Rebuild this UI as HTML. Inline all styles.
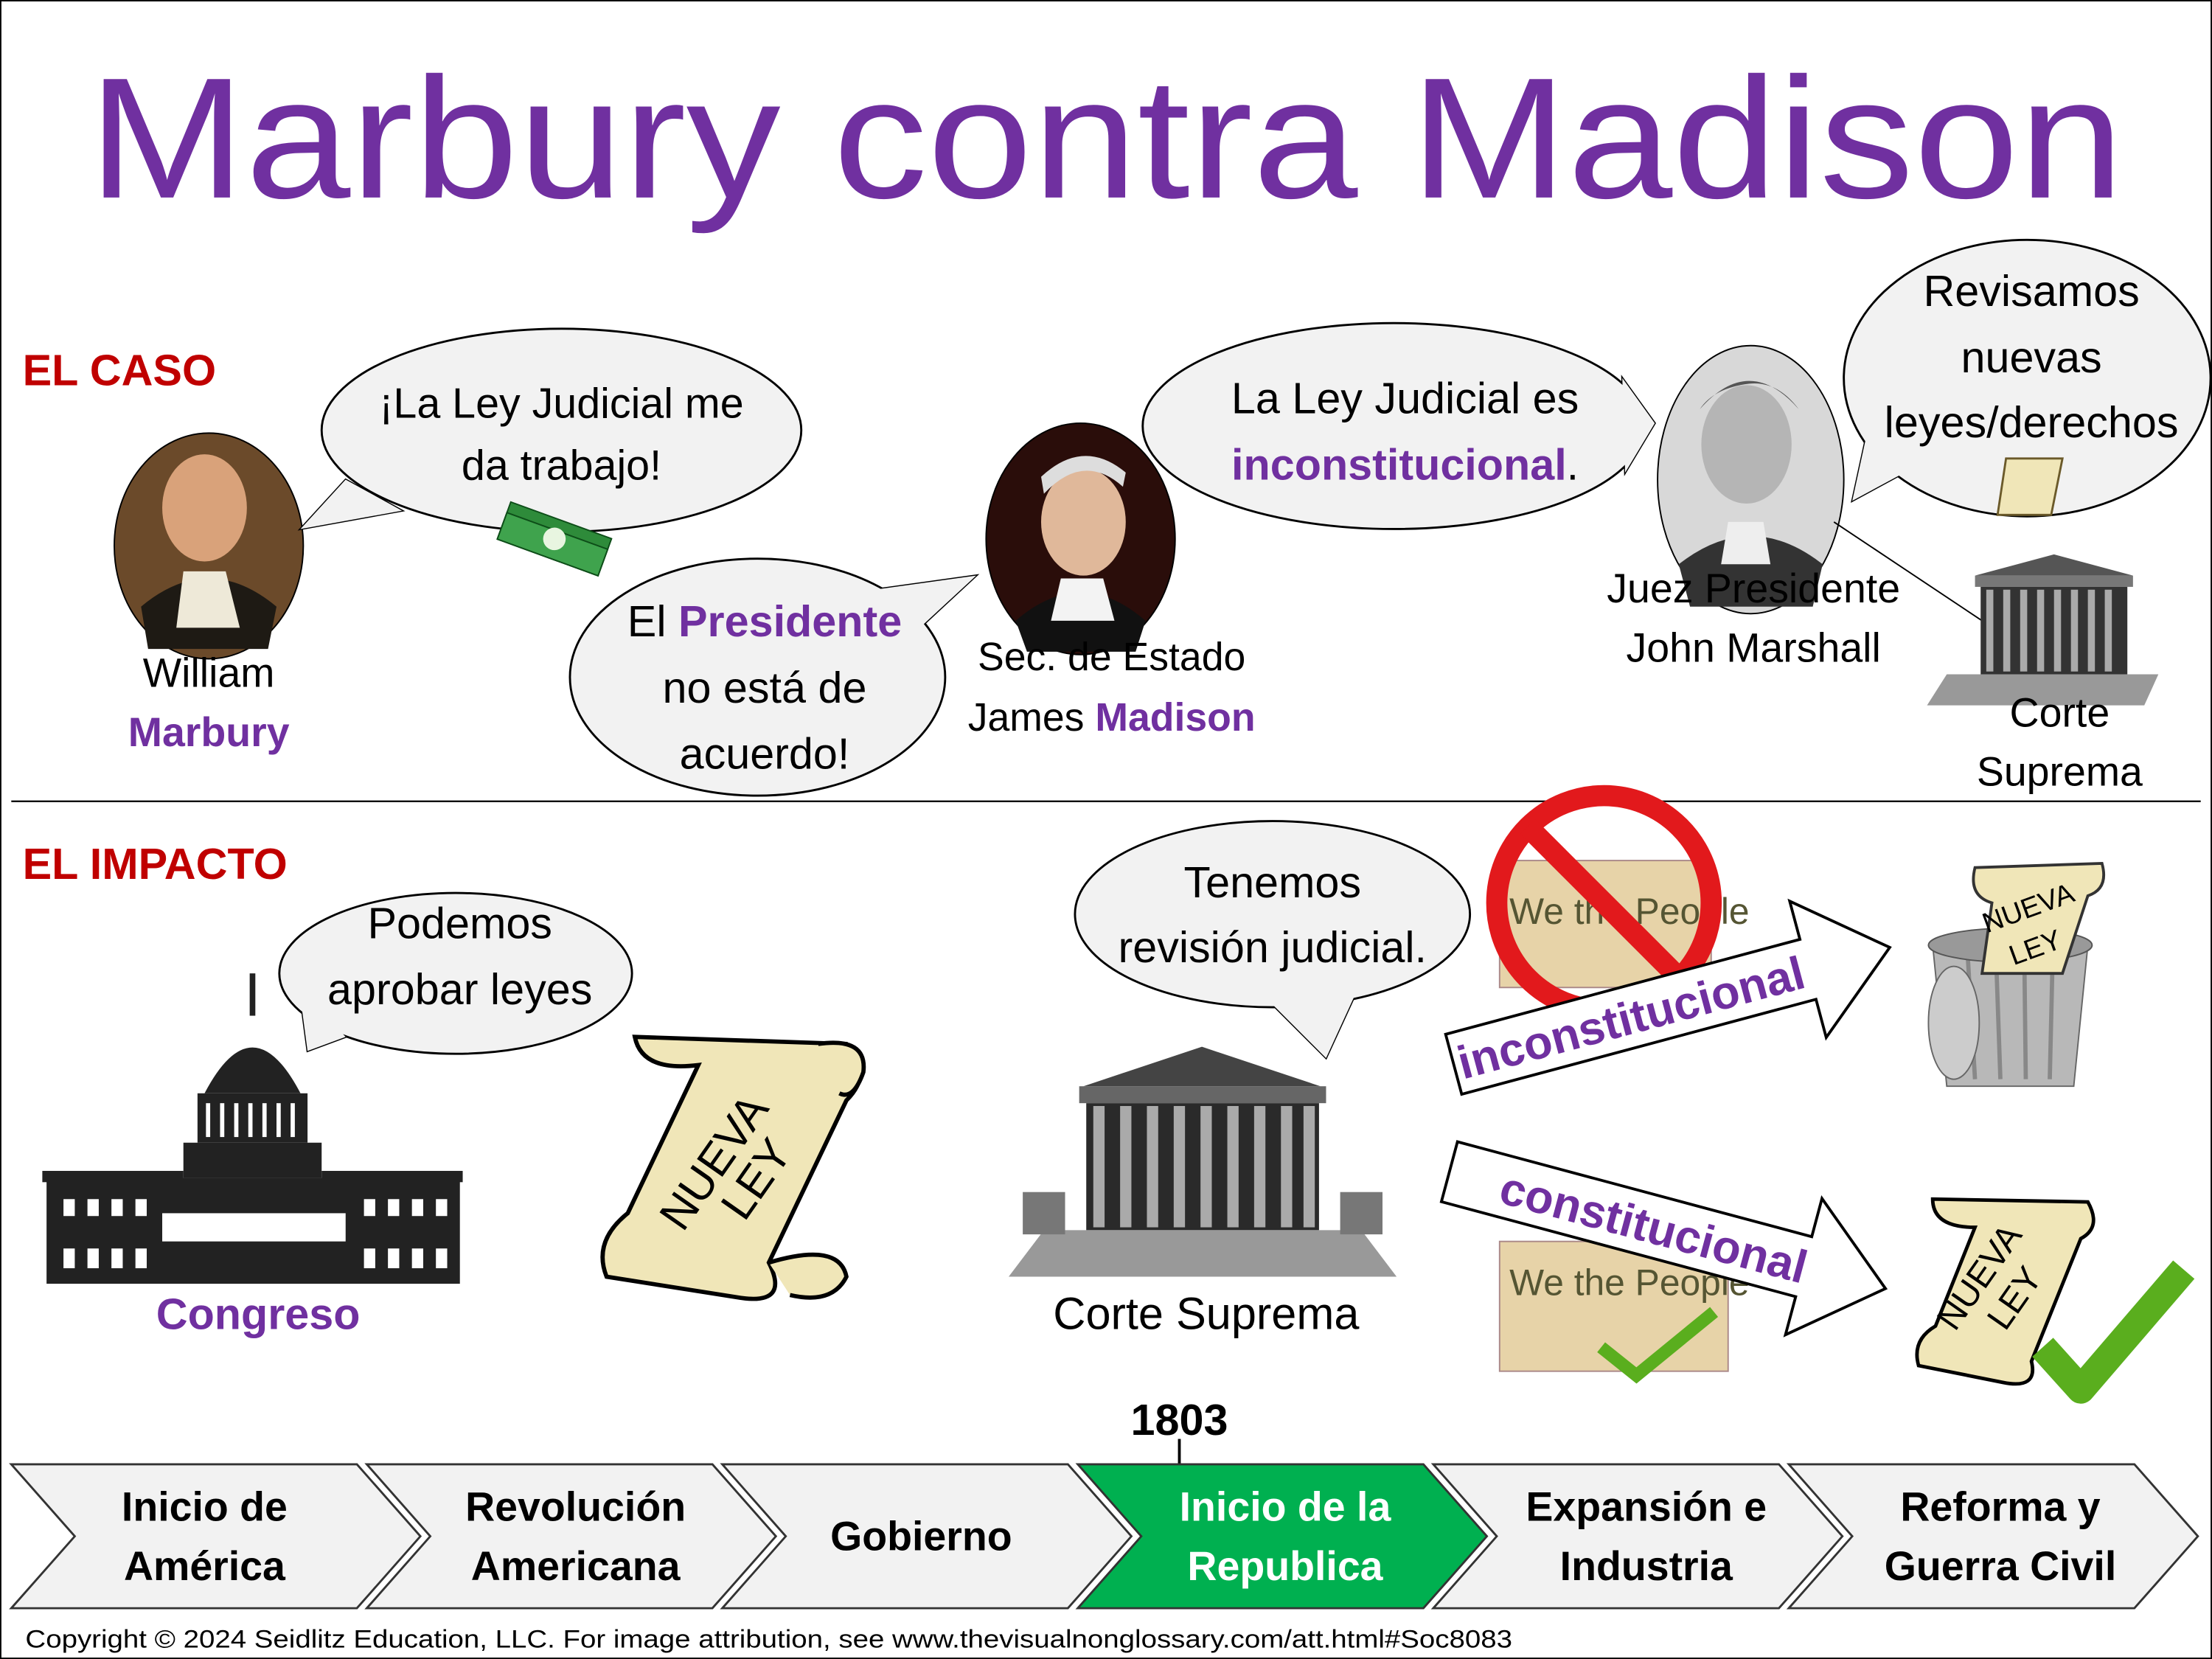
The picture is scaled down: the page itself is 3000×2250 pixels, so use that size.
<!DOCTYPE html>
<html><head><meta charset="utf-8"><style>
html,body{margin:0;padding:0;background:#fff}
svg{display:block}
text{font-family:"Liberation Sans",sans-serif}
</style></head><body>
<svg width="3000" height="2250" viewBox="0 0 1568 1176" preserveAspectRatio="none" xmlns="http://www.w3.org/2000/svg">
<rect x="0.5" y="0.5" width="1567" height="1175" fill="#fff" stroke="#000" stroke-width="1"/>
<text x="784" y="140" font-size="122" fill="#7030A0" text-anchor="middle" textLength="1443" lengthAdjust="spacingAndGlyphs">Marbury contra Madison</text>

<text x="16" y="273" font-size="31" font-weight="bold" fill="#C00000">EL CASO</text>

<!-- Marbury -->
<ellipse cx="148" cy="387" rx="67" ry="80" fill="#6b4a2a" stroke="#000"/>
<ellipse cx="145" cy="360" rx="30" ry="38" fill="#d9a27a"/>
<path d="M100 430 Q148 390 196 430 L190 460 L105 460Z" fill="#1e1a14"/>
<path d="M130 405 L160 405 L170 445 L125 445Z" fill="#eee9d8"/>
<text x="148" y="487" font-size="29" text-anchor="middle">William</text>
<text x="148" y="529" font-size="29" font-weight="bold" fill="#7030A0" text-anchor="middle">Marbury</text>

<g fill="#F2F2F2" stroke="#000" stroke-width="1.5">
<!-- bubble 1 -->
<polygon points="245,340 285,362 213,375"/>
<ellipse cx="398" cy="305" rx="170" ry="72"/>
<polygon points="245,340 285,362 213,375" stroke="none"/>
<!-- bubble 2 -->
<polygon points="620,418 652,445 692,408"/>
<ellipse cx="537" cy="480" rx="133" ry="84"/>
<polygon points="620,418 652,445 692,408" stroke="none"/>
<!-- bubble 3 -->
<polygon points="1150,268 1152,335 1173,300"/>
<ellipse cx="988" cy="302" rx="178" ry="73"/>
<polygon points="1150,268 1152,335 1173,300" stroke="none"/>
<!-- bubble 4 -->
<polygon points="1325,300 1350,335 1313,355"/>
<ellipse cx="1437" cy="268" rx="130" ry="98"/>
<polygon points="1325,300 1350,335 1313,355" stroke="none"/>
<!-- podemos -->
<polygon points="212,700 245,735 218,745"/>
<ellipse cx="323" cy="690" rx="125" ry="57"/>
<polygon points="212,700 245,735 218,745" stroke="none"/>
<!-- tenemos -->
<polygon points="900,710 962,702 940,750"/>
<ellipse cx="902" cy="648" rx="140" ry="66"/>
<polygon points="900,710 962,702 940,750" stroke="none"/>
</g>

<text x="398" y="296" font-size="30" text-anchor="middle">¡La Ley Judicial me</text>
<text x="398" y="340" font-size="30" text-anchor="middle">da trabajo!</text>
<g transform="translate(393,382) rotate(20)">
<rect x="-38" y="-14" width="76" height="28" fill="#2e8b3a" stroke="#0d4d18"/>
<rect x="-38" y="-6" width="76" height="20" fill="#3fa34d" stroke="#0d4d18"/>
<circle cx="0" cy="0" r="8" fill="#e8f5e0"/>
</g>

<text x="542" y="451" font-size="31" text-anchor="middle">El <tspan font-weight="bold" fill="#7030A0">Presidente</tspan></text>
<text x="542" y="498" font-size="31" text-anchor="middle">no está de</text>
<text x="542" y="545" font-size="31" text-anchor="middle">acuerdo!</text>

<!-- Madison -->
<ellipse cx="766" cy="382" rx="67" ry="82" fill="#2a0d0a" stroke="#000"/>
<ellipse cx="768" cy="370" rx="30" ry="38" fill="#e0b89a"/>
<path d="M740 350 Q768 320 796 345 L798 335 Q768 310 738 338Z" fill="#ddd"/>
<path d="M720 440 Q766 400 812 440 L805 462 L728 462Z" fill="#111"/>
<path d="M752 410 L782 410 L790 440 L745 440Z" fill="#f3f3f3"/>
<text x="788" y="475" font-size="28" text-anchor="middle">Sec. de Estado</text>
<text x="788" y="518" font-size="28" text-anchor="middle">James <tspan font-weight="bold" fill="#7030A0">Madison</tspan></text>

<text x="996" y="293" font-size="31" text-anchor="middle">La Ley Judicial es</text>
<text x="996" y="340" font-size="31" text-anchor="middle"><tspan font-weight="bold" fill="#7030A0">inconstitucional</tspan>.</text>

<!-- Marshall -->
<ellipse cx="1241" cy="340" rx="66" ry="95" fill="#d8d8d8" stroke="#000"/>
<ellipse cx="1238" cy="315" rx="32" ry="42" fill="#b5b5b5"/>
<path d="M1205 290 Q1240 250 1275 290 Q1260 270 1240 272 Q1215 275 1205 290Z" fill="#555"/>
<path d="M1190 400 Q1241 360 1292 400 L1285 430 L1198 430Z" fill="#333"/>
<path d="M1225 370 L1250 370 L1255 400 L1220 400Z" fill="#eee"/>
<text x="1243" y="427" font-size="29" text-anchor="middle">Juez Presidente</text>
<text x="1243" y="469" font-size="29" text-anchor="middle">John Marshall</text>

<text x="1440" y="217" font-size="31" text-anchor="middle">Revisamos</text>
<text x="1440" y="264" font-size="31" text-anchor="middle">nuevas</text>
<text x="1440" y="310" font-size="31" text-anchor="middle">leyes/derechos</text>
<g transform="translate(1440,345)">
<path d="M-18 -20 L22 -20 L14 20 L-24 20Z" fill="#f0e6b8" stroke="#6b5a2a" stroke-width="1.5"/>
</g>
<line x1="1300" y1="370" x2="1405" y2="440" stroke="#000" stroke-width="1"/>

<!-- small court -->
<g>
<polygon points="1400,408 1456,393 1512,408" fill="#555"/>
<rect x="1400" y="408" width="112" height="8" fill="#777"/>
<rect x="1404" y="416" width="104" height="62" fill="#333"/>
<g fill="#aaa"><rect x="1408" y="418" width="5" height="58"/><rect x="1420" y="418" width="5" height="58"/><rect x="1432" y="418" width="5" height="58"/><rect x="1444" y="418" width="5" height="58"/><rect x="1456" y="418" width="5" height="58"/><rect x="1468" y="418" width="5" height="58"/><rect x="1480" y="418" width="5" height="58"/><rect x="1492" y="418" width="5" height="58"/></g>
<polygon points="1380,478 1530,478 1520,500 1366,500" fill="#999"/>
</g>
<text x="1460" y="515" font-size="29" text-anchor="middle">Corte</text>
<text x="1460" y="557" font-size="29" text-anchor="middle">Suprema</text>

<line x1="8" y1="568" x2="1560" y2="568" stroke="#000" stroke-width="1.2"/>

<text x="16" y="623" font-size="31" font-weight="bold" fill="#C00000">EL IMPACTO</text>

<text x="326" y="665" font-size="31" text-anchor="middle">Podemos</text>
<text x="326" y="712" font-size="31" text-anchor="middle">aprobar leyes</text>

<!-- capitol -->
<g fill="#222">
<rect x="177" y="690" width="4" height="30"/>
<path d="M145 775 Q179 710 213 775Z"/>
<rect x="140" y="775" width="78" height="35"/>
<rect x="130" y="810" width="98" height="25"/>
<rect x="33" y="835" width="293" height="75"/>
<rect x="30" y="830" width="100" height="8"/>
<rect x="228" y="830" width="100" height="8"/>
</g>
<g fill="#fff">
<rect x="146" y="782" width="3" height="24"/><rect x="156" y="782" width="3" height="24"/><rect x="166" y="782" width="3" height="24"/><rect x="176" y="782" width="3" height="24"/><rect x="186" y="782" width="3" height="24"/><rect x="196" y="782" width="3" height="24"/><rect x="206" y="782" width="3" height="24"/>
<rect x="115" y="860" width="130" height="20"/>
<rect x="45" y="850" width="8" height="12"/><rect x="62" y="850" width="8" height="12"/><rect x="79" y="850" width="8" height="12"/><rect x="96" y="850" width="8" height="12"/>
<rect x="258" y="850" width="8" height="12"/><rect x="275" y="850" width="8" height="12"/><rect x="292" y="850" width="8" height="12"/><rect x="309" y="850" width="8" height="12"/>
<rect x="45" y="885" width="8" height="14"/><rect x="62" y="885" width="8" height="14"/><rect x="79" y="885" width="8" height="14"/><rect x="96" y="885" width="8" height="14"/>
<rect x="258" y="885" width="8" height="14"/><rect x="275" y="885" width="8" height="14"/><rect x="292" y="885" width="8" height="14"/><rect x="309" y="885" width="8" height="14"/>
</g>
<text x="183" y="942" font-size="31" font-weight="bold" fill="#7030A0" text-anchor="middle">Congreso</text>

<!-- big scroll -->
<g stroke="#000" stroke-width="3" fill="#F0E6B8">
<path d="M450 735 L600 740 Q620 760 600 780 L545 895 Q560 925 525 920 L430 905 Q420 880 445 860 L495 755 Q455 760 450 735Z"/>
<path d="M580 740 Q615 735 612 760 Q605 780 595 775"/>
<path d="M545 895 Q595 880 600 905 Q590 925 560 918"/>
</g>
<text transform="translate(515,830) rotate(-55)" font-size="32" text-anchor="middle">NUEVA</text>
<text transform="translate(545,842) rotate(-55)" font-size="32" text-anchor="middle">LEY</text>

<text x="902" y="636" font-size="31" text-anchor="middle">Tenemos</text>
<text x="902" y="682" font-size="31" text-anchor="middle">revisión judicial.</text>

<!-- big court -->
<g>
<polygon points="768,770 852,742 936,770" fill="#444"/>
<rect x="765" y="770" width="175" height="12" fill="#666"/>
<rect x="770" y="782" width="165" height="90" fill="#2a2a2a"/>
<g fill="#aaa"><rect x="775" y="784" width="8" height="86"/><rect x="794" y="784" width="8" height="86"/><rect x="813" y="784" width="8" height="86"/><rect x="832" y="784" width="8" height="86"/><rect x="851" y="784" width="8" height="86"/><rect x="870" y="784" width="8" height="86"/><rect x="889" y="784" width="8" height="86"/><rect x="908" y="784" width="8" height="86"/><rect x="924" y="784" width="8" height="86"/></g>
<polygon points="740,872 965,872 990,905 715,905" fill="#999"/>
<rect x="725" y="845" width="30" height="30" fill="#777"/>
<rect x="950" y="845" width="30" height="30" fill="#777"/>
</g>
<text x="855" y="942" font-size="32" text-anchor="middle">Corte Suprema</text>

<!-- prohibited constitution -->
<rect x="1063" y="610" width="150" height="90" fill="#e7d3a8" stroke="#a88"/>
<text x="1070" y="655" font-size="26" font-family="Liberation Serif" fill="#553">We the People</text>
<circle cx="1137" cy="640" r="76" fill="none" stroke="#E2191C" stroke-width="15"/>
<line x1="1083" y1="586" x2="1191" y2="694" stroke="#E2191C" stroke-width="15"/>

<!-- arrow inconstitucional -->
<g transform="translate(1185,713) rotate(-15)">
<polygon points="-160,-22 100,-22 100,-50 160,0 100,50 100,22 -160,22" fill="#fff" stroke="#000" stroke-width="2"/>
<text x="-30" y="12" font-size="33" font-weight="bold" fill="#7030A0" text-anchor="middle">inconstitucional</text>
</g>

<!-- trash -->
<g>
<path d="M1370 670 L1480 670 L1470 770 L1380 770Z" fill="#b8b8b8" stroke="#666"/>
<g stroke="#888" stroke-width="3"><line x1="1395" y1="680" x2="1400" y2="765"/><line x1="1415" y1="680" x2="1418" y2="765"/><line x1="1435" y1="680" x2="1436" y2="765"/><line x1="1455" y1="680" x2="1453" y2="765"/></g>
<ellipse cx="1425" cy="670" rx="58" ry="12" fill="#999" stroke="#555"/>
<ellipse cx="1385" cy="725" rx="18" ry="40" fill="#ccc" stroke="#666"/>
<path d="M1400 615 L1490 612 Q1495 630 1480 635 L1462 690 L1405 690 L1412 640 Q1395 635 1400 615Z" fill="#F0E6B8" stroke="#333" stroke-width="2"/>
<text transform="translate(1440,650) rotate(-20)" font-size="20" text-anchor="middle">NUEVA</text>
<text transform="translate(1445,678) rotate(-20)" font-size="20" text-anchor="middle">LEY</text>
</g>

<!-- arrow constitucional -->
<rect x="1063" y="880" width="162" height="92" fill="#e7d3a8" stroke="#a88"/>
<text x="1070" y="918" font-size="26" font-family="Liberation Serif" fill="#553">We the People</text>
<g transform="translate(1182,872) rotate(15)">
<polygon points="-160,-22 100,-22 100,-50 160,0 100,50 100,22 -160,22" fill="#fff" stroke="#000" stroke-width="2"/>
<text x="-10" y="12" font-size="33" font-weight="bold" fill="#7030A0" text-anchor="middle">constitucional</text>
</g>
<path d="M1135 955 L1160 975 L1215 930" fill="none" stroke="#5AAE1E" stroke-width="9"/>

<!-- scroll + check -->
<g stroke="#000" stroke-width="2.5" fill="#F0E6B8">
<path d="M1370 850 L1480 852 Q1490 870 1475 878 L1440 965 Q1445 985 1420 980 L1360 968 Q1355 950 1372 940 L1400 870 Q1370 870 1370 850Z"/>
</g>
<text transform="translate(1410,910) rotate(-55)" font-size="25" text-anchor="middle">NUEVA</text>
<text transform="translate(1435,925) rotate(-55)" font-size="25" text-anchor="middle">LEY</text>
<path d="M1448 955 L1475 985 L1548 900" fill="none" stroke="#5AAE1E" stroke-width="20" stroke-linejoin="round"/>

<!-- timeline -->
<text x="836" y="1017" font-size="31" font-weight="bold" text-anchor="middle">1803</text>
<line x1="836" y1="1020" x2="836" y2="1038" stroke="#000" stroke-width="2"/>
<g stroke="#333" stroke-width="1.5">
<polygon points="8,1038 253,1038 298,1089 253,1140 8,1140 53,1089" fill="#F2F2F2"/>
<polygon points="260,1038 505,1038 550,1089 505,1140 260,1140 305,1089" fill="#F2F2F2"/>
<polygon points="512,1038 757,1038 802,1089 757,1140 512,1140 557,1089" fill="#F2F2F2"/>
<polygon points="764,1038 1009,1038 1054,1089 1009,1140 764,1140 809,1089" fill="#00B050"/>
<polygon points="1016,1038 1261,1038 1306,1089 1261,1140 1016,1140 1061,1089" fill="#F2F2F2"/>
<polygon points="1268,1038 1513,1038 1558,1089 1513,1140 1268,1140 1313,1089" fill="#F2F2F2"/>
</g>
<g font-size="29" font-weight="bold" text-anchor="middle">
<text x="145" y="1078">Inicio de</text><text x="145" y="1120">América</text>
<text x="408" y="1078">Revolución</text><text x="408" y="1120">Americana</text>
<text x="653" y="1099">Gobierno</text>
<text x="911" y="1078" fill="#fff">Inicio de la</text><text x="911" y="1120" fill="#fff">Republica</text>
<text x="1167" y="1078">Expansión e</text><text x="1167" y="1120">Industria</text>
<text x="1418" y="1078">Reforma y</text><text x="1418" y="1120">Guerra Civil</text>
</g>
<text x="18" y="1168" font-size="18" textLength="1054" lengthAdjust="spacingAndGlyphs">Copyright © 2024 Seidlitz Education, LLC.  For image attribution, see www.thevisualnonglossary.com/att.html#Soc8083</text>
</svg>
</body></html>
